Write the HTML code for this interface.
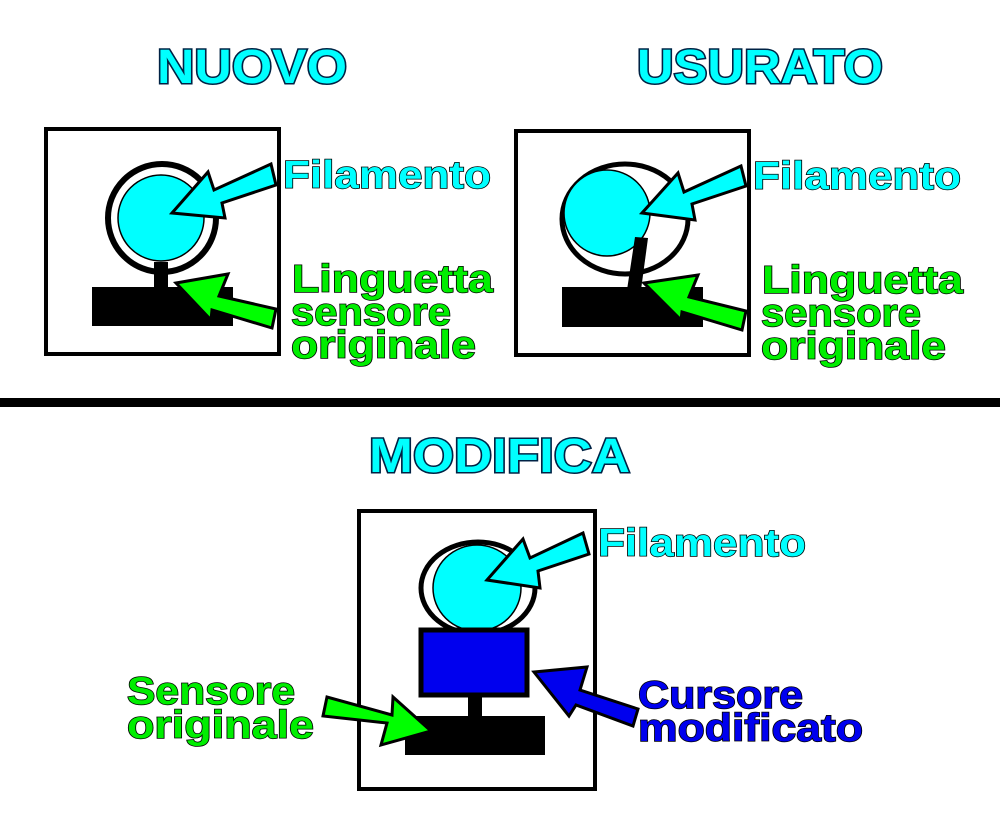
<!DOCTYPE html>
<html><head><style>html,body{margin:0;padding:0;background:#fff}svg{display:block}</style></head><body>
<svg width="1000" height="836" viewBox="0 0 1000 836" xmlns="http://www.w3.org/2000/svg" font-family="Liberation Sans, sans-serif" font-weight="bold">
<rect width="1000" height="836" fill="#fff"/>
<g fill="#00ffff" stroke="#024" stroke-width="3" paint-order="stroke" font-size="48">
<text x="157" y="83" textLength="190" lengthAdjust="spacingAndGlyphs">NUOVO</text>
<text x="637" y="83" textLength="246" lengthAdjust="spacingAndGlyphs">USURATO</text>
<text x="369" y="472" textLength="261" lengthAdjust="spacingAndGlyphs">MODIFICA</text>
</g>
<rect x="0" y="398" width="1000" height="9" fill="#000"/>

<!-- Panel 1 -->
<rect x="46" y="129" width="233" height="225" fill="#fff" stroke="#000" stroke-width="4"/>
<rect x="92" y="287" width="141" height="39" fill="#000"/>
<circle cx="162" cy="218" r="54" fill="#fff" stroke="#000" stroke-width="6"/>
<circle cx="161" cy="218" r="43" fill="#00ffff" stroke="#000" stroke-width="1.5"/>
<rect x="154" y="262" width="14" height="28" fill="#000"/>
<polygon points="172,213 208,172 214,190 271,164 276,185 222,203 225,218" fill="#00ffff" stroke="#000" stroke-width="3"/>
<polygon points="176,283 228,274 219,296 276,309 272,328 212,310 211,320" fill="#00ff00" stroke="#000" stroke-width="3"/>

<!-- Panel 2 -->
<rect x="516" y="131" width="233" height="224" fill="#fff" stroke="#000" stroke-width="4"/>
<rect x="562" y="287" width="141" height="40" fill="#000"/>
<ellipse cx="625" cy="219" rx="63" ry="55" fill="#fff" stroke="#000" stroke-width="5"/>
<circle cx="607" cy="213" r="43" fill="#00ffff" stroke="#000" stroke-width="1.5"/>
<polygon points="635,237 648,238 641,290 627,290" fill="#000"/>
<polygon points="642,213 678,173 684,192 741,166 746,186 692,204 695,220" fill="#00ffff" stroke="#000" stroke-width="3"/>
<polygon points="644,283 698,275 689,297 746,311 742,330 682,312 681,320" fill="#00ff00" stroke="#000" stroke-width="3"/>

<!-- Panel 3 -->
<rect x="359" y="511" width="236" height="278" fill="#fff" stroke="#000" stroke-width="4"/>
<rect x="405" y="716" width="140" height="39" fill="#000"/>
<rect x="468" y="694" width="14" height="24" fill="#000"/>
<ellipse cx="478" cy="588" rx="57" ry="46" fill="#fff" stroke="#000" stroke-width="5"/>
<ellipse cx="477" cy="588" rx="44" ry="43" fill="#00ffff" stroke="#000" stroke-width="1.5"/>
<rect x="421" y="630" width="106" height="65" fill="#0000ee" stroke="#000" stroke-width="5"/>
<polygon points="487,580 523,539 530,558 583,533 589,554 538,571 540,588" fill="#00ffff" stroke="#000" stroke-width="3"/>
<polygon points="534,672 587,667 580,690 638,709 633,726 576,705 569,716" fill="#0000ee" stroke="#000" stroke-width="3"/>
<polygon points="431,731 381,745 387,723 323,716 327,697 392,715 393,697" fill="#00ff00" stroke="#000" stroke-width="3"/>

<g font-size="39" stroke="#000" stroke-width="1.5" paint-order="stroke">
<g fill="#00ffff">
<text x="283" y="188" textLength="208" lengthAdjust="spacingAndGlyphs">Filamento</text>
<text x="753" y="189" textLength="208" lengthAdjust="spacingAndGlyphs">Filamento</text>
<text x="598" y="556" textLength="208" lengthAdjust="spacingAndGlyphs">Filamento</text>
</g>
<g fill="#00ee00">
<text x="292" y="292" textLength="201" lengthAdjust="spacingAndGlyphs">Linguetta</text>
<text x="291" y="325" textLength="160" lengthAdjust="spacingAndGlyphs">sensore</text>
<text x="291" y="358" textLength="185" lengthAdjust="spacingAndGlyphs">originale</text>
<text x="762" y="293" textLength="201" lengthAdjust="spacingAndGlyphs">Linguetta</text>
<text x="761" y="326" textLength="160" lengthAdjust="spacingAndGlyphs">sensore</text>
<text x="761" y="359" textLength="185" lengthAdjust="spacingAndGlyphs">originale</text>
<text x="127" y="704" textLength="168" lengthAdjust="spacingAndGlyphs">Sensore</text>
<text x="127" y="738" textLength="187" lengthAdjust="spacingAndGlyphs">originale</text>
</g>
<g fill="#0000ee">
<text x="638" y="708" textLength="165" lengthAdjust="spacingAndGlyphs">Cursore</text>
<text x="638" y="741" textLength="225" lengthAdjust="spacingAndGlyphs">modificato</text>
</g>
</g>
</svg>
</body></html>
